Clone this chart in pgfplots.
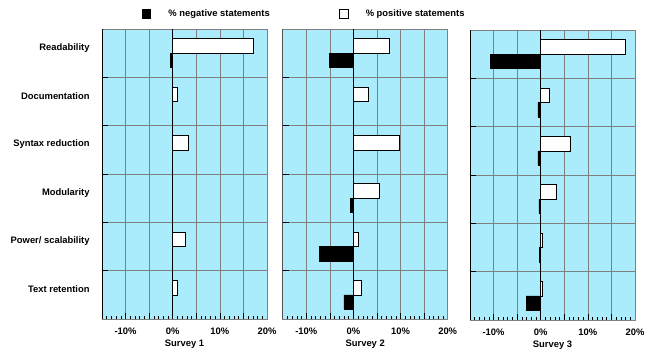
\documentclass[border=0pt]{standalone}
\usepackage{pgfplots}
\pgfplotsset{compat=1.18}
\usepackage{fontspec}
\setmainfont{Liberation Sans}
\definecolor{bg}{RGB}{170,236,252}
\definecolor{gridc}{RGB}{128,128,128}
\pgfplotsset{
 panel/.style={
  scale only axis, width=165pt, height=290pt,
  xmin=-15, xmax=20, ymin=0.5, ymax=6.5,
  xtick={-15,-10,...,20},
  xticklabels={,-10\%,,0\%,,10\%,,20\%},
  minor x tick num=4,
  ytick={0.5,1.5,...,6.5},
  yticklabels={,,,,,,,},
  tick pos=left,
  tick align=inside,
  major tick length=6pt, minor tick length=3pt,
  tick style={black, line width=0.6pt},
  grid=major,
  major grid style={gridc, line width=0.6pt},
  axis line style={gridc, line width=0.6pt},
  axis background/.style={fill=bg},
  xticklabel style={yshift=-5.5pt},
  yticklabel style={xshift=-8.9pt},
  xlabel style={at={(axis description cs:0.5,0)}, anchor=north, yshift=-17pt},
  legend style={draw=none, fill=none, inner sep=0pt, nodes={inner sep=0pt}},
 },
 pos/.style={xbar, bar width=0.3, bar shift=0pt, fill=white, draw=black, line width=0.6pt,
   legend image code/.code={\draw[fill=white,draw=black,line width=0.6pt] (0pt,-4.2pt) rectangle (8.5pt,4.2pt); \path (26pt,0pt);}},
 neg/.style={xbar, bar width=0.3, bar shift=0pt, fill=black, draw=black, line width=0.6pt,
   legend image code/.code={\draw[fill=black,draw=black,line width=0.6pt] (0pt,-4.2pt) rectangle (8.5pt,4.2pt); \path (26pt,0pt);}},
}
\begin{document}
\begin{tikzpicture}[font=\bfseries\fontsize{9.4}{11}\selectfont]
\path[use as bounding box] (0,0) rectangle (650pt,-351pt);
% Survey 1
\begin{axis}[panel, at={(102pt,-29pt)}, anchor=north west, xlabel={Survey 1},
  extra y ticks={6.11,5.11,4.11,3.11,2.11,1.11},
  extra y tick labels={Readability,Documentation,Syntax reduction,Modularity,Power/ scalability,Text retention},
  extra y tick style={major tick length=0pt, grid=none},
  legend style={at={(axis description cs:0.2406,1.052)}, anchor=west}]
\addplot[pos, forget plot] coordinates {(17,6.15) (0.9,5.15) (3.4,4.15) (2.6,2.15) (1.0,1.15)};
\addplot[neg] coordinates {(-0.6,5.85)};
\addlegendentry{\% negative statements}
\draw[black, line width=0.9pt] (axis cs:0,0.5) -- (axis cs:0,6.5);
\draw[black, line width=0.6pt] (rel axis cs:0,0) -- (rel axis cs:1,0);
\draw[black, line width=0.6pt] (rel axis cs:0,0) -- (rel axis cs:0,1);
\end{axis}
% Survey 2
\begin{axis}[panel, at={(282.7pt,-29pt)}, anchor=north west, xlabel={Survey 2},
  legend style={at={(axis description cs:0.341,1.052)}, anchor=west}]
\addplot[pos] coordinates {(7.6,6.15) (3.1,5.15) (9.8,4.15) (5.4,3.15) (1.0,2.15) (1.6,1.15)};
\addlegendentry{\% positive statements}
\addplot[neg, forget plot] coordinates {(-5.1,5.85) (-0.7,2.85) (-7.3,1.85) (-2.0,0.85)};
\draw[black, line width=0.9pt] (axis cs:0,0.5) -- (axis cs:0,6.5);
\draw[black, line width=0.6pt] (rel axis cs:0,0) -- (rel axis cs:1,0);
\draw[black, line width=0.6pt] (rel axis cs:0,0) -- (rel axis cs:0,1);
\end{axis}
% Survey 3
\begin{axis}[panel, at={(470pt,-30pt)}, anchor=north west, xlabel={Survey 3}]
\addplot[pos] coordinates {(17.9,6.15) (1.9,5.15) (6.2,4.15) (3.3,3.15) (0.3,2.15) (0.3,1.15)};
\addplot[neg] coordinates {(-10.6,5.85) (-0.6,4.85) (-0.6,3.85) (-0.4,2.85) (-0.3,1.85) (-3.1,0.85)};
\draw[black, line width=0.9pt] (axis cs:0,0.5) -- (axis cs:0,6.5);
\draw[black, line width=0.6pt] (rel axis cs:0,0) -- (rel axis cs:1,0);
\draw[black, line width=0.6pt] (rel axis cs:0,0) -- (rel axis cs:0,1);
\end{axis}
\end{tikzpicture}
\end{document}
